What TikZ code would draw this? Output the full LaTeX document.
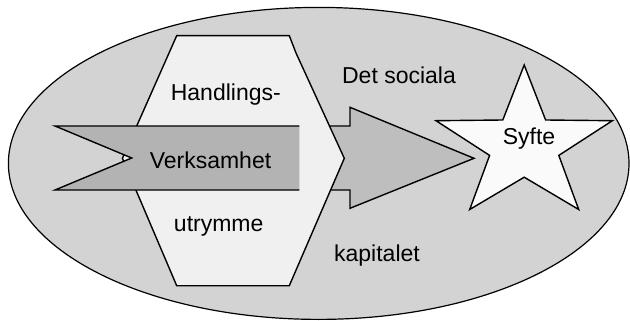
\documentclass[tikz,border=0pt]{standalone}
\usepackage{fontspec}
\setmainfont{Liberation Sans}
\definecolor{ellfill}{HTML}{D3D3D3}
\definecolor{hexfill}{HTML}{F0F0F0}
\definecolor{verkfill}{HTML}{B3B3B3}
\definecolor{bigfill}{HTML}{BEBEBE}
\definecolor{starfill}{HTML}{FAFAFA}
\begin{document}
\begin{tikzpicture}[x=1pt,y=-1pt,line join=miter,
  outline/.style={draw=black,line width=1.4pt},
  lbl/.style={font=\fontsize{23}{27}\selectfont,anchor=base,inner sep=0pt}]
\useasboundingbox (0,0) rectangle (630,321);
% background ellipse
\path[fill=ellfill,draw=black,line width=1.2pt] (318.7,163.4) ellipse [x radius=310.3, y radius=156];
% big arrow towards the star
\path[outline,fill=bigfill] (310,126) -- (350,126) -- (350,107.3) -- (474,158.3)
  -- (350,208.3) -- (350,190) -- (310,190) -- cycle;
% hexagon (Handlings-utrymme)
\path[outline,fill=hexfill] (176.7,35.7) -- (289.3,35.7) -- (296,53) -- (344.3,158.3)
  -- (289.3,285.7) -- (176.7,285.7) -- (122.4,158.3) -- cycle;
% Verksamhet notched arrow
\fill[verkfill] (55,126) -- (299.3,126) -- (299.3,190) -- (55,190) -- (131.7,158) -- cycle;
\draw[outline] (299.3,126) -- (55,126) -- (131.7,158) -- (55,190) -- (299.3,190);
% star
\path[outline,fill=starfill] (524.2,65) -- (545.6,120.0) -- (612.4,120.7) -- (558.8,155.4)
  -- (578.7,209.5) -- (524.2,177.2) -- (469.7,209.5) -- (489.6,155.4)
  -- (436,120.7) -- (502.8,120.0) -- cycle;
% labels
\node[lbl] (handl) at (225.8,100) {Handlings-};
\node[lbl] (verk) at (210.5,168.3) {Verksamhet};
\node[lbl] (utr) at (218.7,231.7) {utrymme};
\node[lbl] (det) at (399,83.3) {Det sociala};
\node[lbl] (kap) at (377,261.7) {kapitalet};
\node[lbl] (syfte) at (529,145) {Syfte};
\end{tikzpicture}
\end{document}
